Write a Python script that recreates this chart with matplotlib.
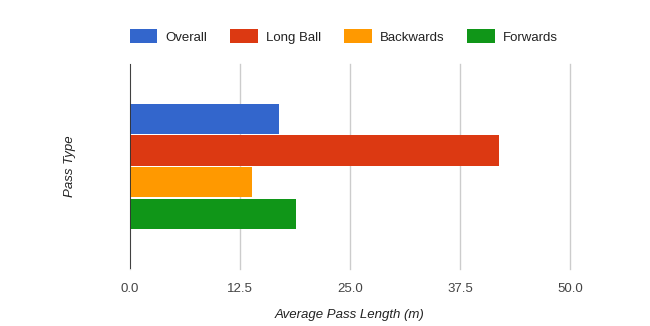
import matplotlib.pyplot as plt
import numpy as np

plt.rcParams['font.family'] = ['Liberation Sans', 'DejaVu Sans']

# average pass length per pass type (metres)
series = ['Overall', 'Long Ball', 'Backwards', 'Forwards']
values = [16.9, 41.9, 13.9, 18.9]
colors = ['#3366cc', '#dc3912', '#ff9900', '#109618']
xticks = [0.0, 12.5, 25.0, 37.5, 50.0]

fig = plt.figure(figsize=(6.5, 3.26), dpi=100)
ax = fig.add_axes([0.2, 0.175, 0.677, 0.629])

bar_h = 0.148
step = 0.155
offsets = (np.arange(len(series)) - (len(series) - 1) / 2) * -step
for name, val, col, off in zip(series, values, colors, offsets):
    ax.barh(off, val, height=bar_h, color=col, label=name, zorder=3)

ax.set_xlim(0, 50)
ax.set_ylim(-0.5, 0.5)
ax.set_xticks(xticks)
ax.set_xticklabels(['%.1f' % t for t in xticks])
ax.set_yticks([])
ax.grid(axis='x', color='#cccccc', linewidth=1, zorder=0)
for gl in ax.get_xgridlines():
    gl.set_clip_on(False)
ax.axvline(0, color='#333333', linewidth=1.3, zorder=4)
for s in ax.spines.values():
    s.set_visible(False)
ax.tick_params(axis='x', length=0, pad=10, labelsize=9.5, labelcolor='#444444')

ax.set_xlabel('Average Pass Length (m)', fontsize=9.5, style='italic',
              color='#222222', labelpad=10)
ax.set_ylabel('Pass Type', fontsize=9.5, style='italic', color='#222222',
              labelpad=39)

fig.legend(loc='center', bbox_to_anchor=(0.529, 0.888), ncol=4, frameon=False,
           fontsize=9.5, handlelength=2.1, handleheight=1.2,
           handletextpad=0.6, columnspacing=1.75, labelcolor='#222222')

fig.savefig('out.png', dpi=100)
